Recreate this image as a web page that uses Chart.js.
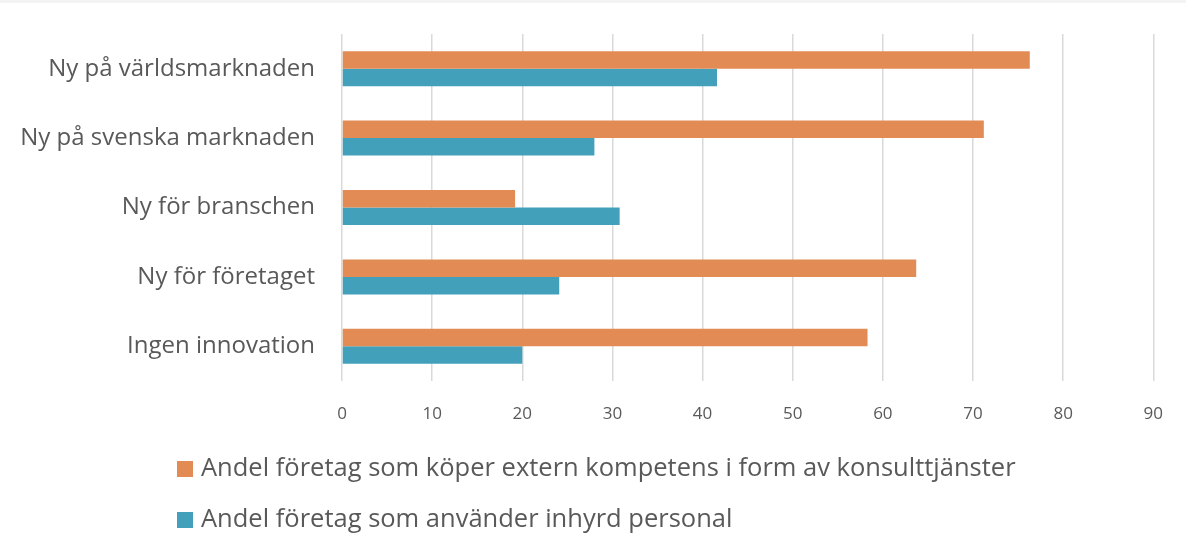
<!DOCTYPE html>
<html lang="sv">
<head>
  <meta charset="UTF-8">
  <title>Innovation och extern kompetens</title>
  <script src="https://cdn.jsdelivr.net/npm/chart.js"></script>
  <style>
    body { margin: 0; background: #fff; }
  </style>
</head>
<body>
  <canvas id="diagram" width="1186" height="556"></canvas>

  <script>
    const kategorier = [
      'Ny på världsmarknaden',
      'Ny på svenska marknaden',
      'Ny för branschen',
      'Ny för företaget',
      'Ingen innovation'
    ];
    const konsulter = [76.3, 71.2, 19.2, 63.7, 58.3];
    const inhyrda = [41.6, 28.0, 30.8, 24.1, 20.0];
    const serieNamn = [
      'Andel företag som köper extern kompetens i form av konsulttjänster',
      'Andel företag som använder inhyrd personal'
    ];
    const farger = ['#e28b55', '#43a0bb'];

    const textfarg = '#595959';
    const typsnitt = '"Open Sans", sans-serif';

    // egen legend, en rad per serie, vänsterställd
    const legendPlugin = {
      id: 'egenLegend',
      beforeDraw(chart) {
        const ctx = chart.ctx;
        ctx.save();
        ctx.fillStyle = '#f3f3f3';
        ctx.fillRect(0, 0, chart.width, 3);
        ctx.restore();
      },
      afterDraw(chart) {
        const ctx = chart.ctx;
        ctx.save();
        ctx.font = '25.5px ' + typsnitt;
        ctx.textBaseline = 'middle';
        chart.data.datasets.forEach((ds, i) => {
          const y = 469 + i * 51;
          ctx.fillStyle = ds.backgroundColor;
          ctx.fillRect(177, y - 8, 16, 16);
          ctx.fillStyle = textfarg;
          ctx.fillText(ds.label, 201, y);
        });
        ctx.restore();
      }
    };

    new Chart(document.getElementById('diagram'), {
      type: 'bar',
      data: {
        labels: kategorier,
        datasets: [
          { label: serieNamn[0], data: konsulter, backgroundColor: farger[0] },
          { label: serieNamn[1], data: inhyrda, backgroundColor: farger[1] }
        ]
      },
      options: {
        indexAxis: 'y',
        responsive: false,
        animation: false,
        layout: { padding: { top: 34, right: 32, left: 0, bottom: 0 } },
        datasets: {
          bar: { barPercentage: 1, categoryPercentage: 0.505 }
        },
        plugins: {
          legend: { display: false },
          tooltip: { enabled: false }
        },
        scales: {
          x: {
            min: 0,
            max: 90,
            ticks: {
              stepSize: 10,
              color: textfarg,
              padding: 23,
              font: { family: typsnitt, size: 17 }
            },
            grid: { color: '#d9d9d9', lineWidth: 1.5, drawTicks: false },
            border: { display: false },
            afterFit(scale) { scale.height = 175; }
          },
          y: {
            ticks: {
              color: textfarg,
              padding: 27,
              font: { family: typsnitt, size: 24 }
            },
            grid: { display: false, drawTicks: false },
            border: { display: false },
            afterFit(scale) {
              scale.width = 342;
              scale.paddingTop = 0;
              scale.paddingBottom = 0;
            }
          }
        }
      },
      plugins: [legendPlugin]
    });
  </script>
</body>
</html>
